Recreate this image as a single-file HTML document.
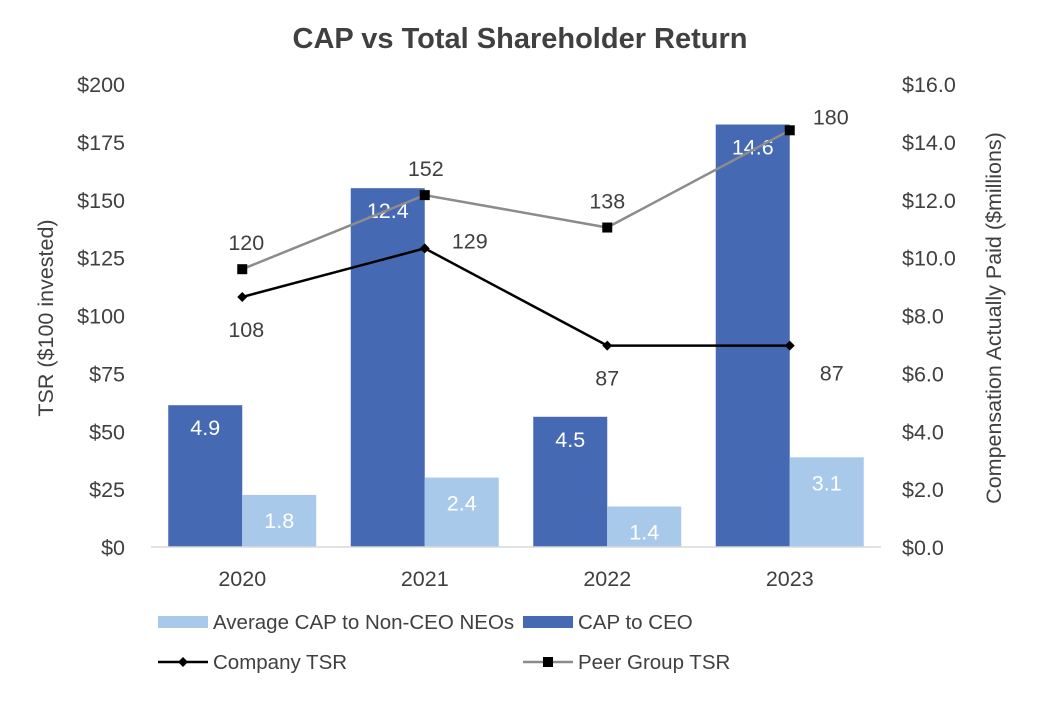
<!DOCTYPE html>
<html><head><meta charset="utf-8"><style>
body{margin:0;background:#fff;}
svg text{font-family:"Liberation Sans",Arial,sans-serif;fill:#404040;}
</style></head><body>
<svg id="c" width="1040" height="696" xmlns="http://www.w3.org/2000/svg">
<text x="520" y="48" text-anchor="middle" font-size="29" font-weight="bold">CAP vs Total Shareholder Return</text>
<g id="g"></g>
</svg>
<script>
const categories=["2020","2021","2022","2023"];
const ceoCap=[4.9,12.4,4.5,14.6];
const neoCap=[1.8,2.4,1.4,3.1];
const companyTsr=[108,129,87,87];
const peerTsr=[120,152,138,180];
const leftTicks=[0,25,50,75,100,125,150,175,200];
const rightTicks=[0,2,4,6,8,10,12,14,16];

const NS="http://www.w3.org/2000/svg";
const g=document.getElementById('g');
const X0=151,X1=881,Y0=547,Y1=84;
const bw=(X1-X0)/categories.length;
const xc=i=>X0+bw*(i+0.5);
const yL=v=>Y0-(v/200)*(Y0-Y1);
const yR=v=>Y0-(v/16)*(Y0-Y1);
const FS=21.5;
function el(t,a,txt){const e=document.createElementNS(NS,t);for(const k in a)e.setAttribute(k,a[k]);if(txt!==undefined)e.textContent=txt;g.appendChild(e);return e;}
leftTicks.forEach(v=>{const t=el('text',{x:125,y:yL(v)+8,'text-anchor':'end','font-size':FS},'$'+v);

});
rightTicks.forEach(v=>{const t=el('text',{x:902,y:yR(v)+8,'font-size':FS},'$'+v.toFixed(1));

});
let t=el('text',{x:0,y:0,'font-size':FS,'text-anchor':'middle',transform:'translate(53,318) rotate(-90)'},'TSR ($100 invested)');


t=el('text',{x:0,y:0,'font-size':FS,'text-anchor':'middle',transform:'translate(1001,318) rotate(-90)'},'Compensation Actually Paid ($millions)');


const BW=74;
categories.forEach((c,i)=>{
 const cx=xc(i);
 let r=el('rect',{x:cx-BW,y:yR(ceoCap[i]),width:BW,height:Y0-yR(ceoCap[i]),fill:'#4669b3'});
 
 
 r=el('rect',{x:cx,y:yR(neoCap[i]),width:BW,height:Y0-yR(neoCap[i]),fill:'#a9c9eb'});
 
 
 let l=el('text',{x:cx-BW/2,y:yR(ceoCap[i])+30,'text-anchor':'middle','font-size':FS,style:'fill:#fff'},ceoCap[i].toFixed(1));
 
 
 l=el('text',{x:cx+BW/2,y:yR(neoCap[i])+33,'text-anchor':'middle','font-size':FS,style:'fill:#fff'},neoCap[i].toFixed(1));
 
 
 l=el('text',{x:cx,y:586,'text-anchor':'middle','font-size':FS},c);
 
 
});
let ax=el('line',{x1:X0,y1:Y0,x2:X1,y2:Y0,stroke:'#d9d9d9','stroke-width':1.5});


function series(vals,color,marker,name,offs){
 const p=el('polyline',{points:vals.map((v,i)=>xc(i)+','+yL(v)).join(' '),fill:'none',stroke:color,'stroke-width':2.5});
 
 
 vals.forEach((v,i)=>{
  const x=xc(i),y=yL(v);let m;
  if(marker==='d')m=el('polygon',{points:`${x-5},${y} ${x},${y-5} ${x+5},${y} ${x},${y+5}`,fill:'#000'});
  else m=el('rect',{x:x-5,y:y-5,width:10,height:10,fill:'#000'});
  
  
  const o=offs[i];
  const l=el('text',{x:x+o[0],y:y+o[1],'text-anchor':'middle','font-size':FS},v);
  
  
 });
}
series(peerTsr,'#8c8c8c','s','peer-tsr',[[4,-19],[1,-19],[0,-19],[41,-6]]);
series(companyTsr,'#000','d','company-tsr',[[4,40],[45,0],[0,40],[42,35]]);
function leg(x,y,kind,label,name){
 let s;
 if(kind==='light')s=el('rect',{x:x,y:y-6,width:50,height:12,fill:'#a9c9eb'});
 else if(kind==='dark')s=el('rect',{x:x,y:y-6,width:50,height:12,fill:'#4669b3'});
 else{el('line',{x1:x,y1:y,x2:x+50,y2:y,stroke:kind==='d'?'#000':'#8c8c8c','stroke-width':2.5});
  s=kind==='d'?el('polygon',{points:`${x+20},${y} ${x+25},${y-5} ${x+30},${y} ${x+25},${y+5}`,fill:'#000'}):el('rect',{x:x+20,y:y-5,width:10,height:10,fill:'#000'});}
 
 
 const t=el('text',{x:x+55,y:y+7,'font-size':20.5},label);
 
 
}
leg(158,622,'light','Average CAP to Non-CEO NEOs','neo-cap');
leg(523,622,'dark','CAP to CEO','ceo-cap');
leg(158,662,'d','Company TSR','company-tsr');
leg(523,662,'s','Peer Group TSR','peer-tsr');
</script>
</body></html>
